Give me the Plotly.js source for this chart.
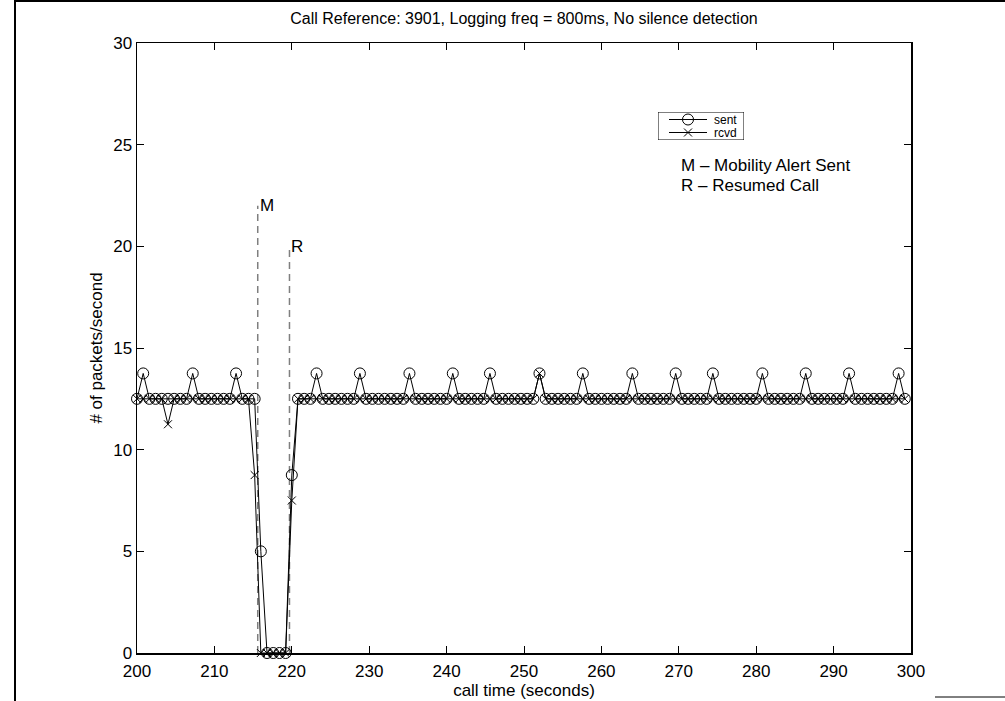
<!DOCTYPE html>
<html>
<head>
<meta charset="utf-8">
<script src="https://cdn.plot.ly/plotly-3.0.1.min.js"></script>
<style>
html,body{margin:0;padding:0;background:#fff;}
#chart{width:1005px;height:701px;}
</style>
</head>
<body>
<div id="chart"></div>
<script>
// call time (seconds), one sample every 0.8 s
const callTime = [
  200.0, 200.8, 201.6, 202.4, 203.2,
  204.0, 204.8, 205.6, 206.4, 207.2,
  208.0, 208.8, 209.6, 210.4, 211.2,
  212.0, 212.8, 213.6, 214.4, 215.2,
  216.0, 216.8, 217.6, 218.4, 219.2,
  220.0, 220.8, 221.6, 222.4, 223.2,
  224.0, 224.8, 225.6, 226.4, 227.2,
  228.0, 228.8, 229.6, 230.4, 231.2,
  232.0, 232.8, 233.6, 234.4, 235.2,
  236.0, 236.8, 237.6, 238.4, 239.2,
  240.0, 240.8, 241.6, 242.4, 243.2,
  244.0, 244.8, 245.6, 246.4, 247.2,
  248.0, 248.8, 249.6, 250.4, 251.2,
  252.0, 252.8, 253.6, 254.4, 255.2,
  256.0, 256.8, 257.6, 258.4, 259.2,
  260.0, 260.8, 261.6, 262.4, 263.2,
  264.0, 264.8, 265.6, 266.4, 267.2,
  268.0, 268.8, 269.6, 270.4, 271.2,
  272.0, 272.8, 273.6, 274.4, 275.2,
  276.0, 276.8, 277.6, 278.4, 279.2,
  280.0, 280.8, 281.6, 282.4, 283.2,
  284.0, 284.8, 285.6, 286.4, 287.2,
  288.0, 288.8, 289.6, 290.4, 291.2,
  292.0, 292.8, 293.6, 294.4, 295.2,
  296.0, 296.8, 297.6, 298.4, 299.2
];

const sent = [
  12.5, 13.75, 12.5, 12.5, 12.5,
  12.5, 12.5, 12.5, 12.5, 13.75,
  12.5, 12.5, 12.5, 12.5, 12.5,
  12.5, 13.75, 12.5, 12.5, 12.5,
  5, 0, 0, 0, 0,
  8.75, 12.5, 12.5, 12.5, 13.75,
  12.5, 12.5, 12.5, 12.5, 12.5,
  12.5, 13.75, 12.5, 12.5, 12.5,
  12.5, 12.5, 12.5, 12.5, 13.75,
  12.5, 12.5, 12.5, 12.5, 12.5,
  12.5, 13.75, 12.5, 12.5, 12.5,
  12.5, 12.5, 13.75, 12.5, 12.5,
  12.5, 12.5, 12.5, 12.5, 12.5,
  13.75, 12.5, 12.5, 12.5, 12.5,
  12.5, 12.5, 13.75, 12.5, 12.5,
  12.5, 12.5, 12.5, 12.5, 12.5,
  13.75, 12.5, 12.5, 12.5, 12.5,
  12.5, 12.5, 13.75, 12.5, 12.5,
  12.5, 12.5, 12.5, 13.75, 12.5,
  12.5, 12.5, 12.5, 12.5, 12.5,
  12.5, 13.75, 12.5, 12.5, 12.5,
  12.5, 12.5, 12.5, 13.75, 12.5,
  12.5, 12.5, 12.5, 12.5, 12.5,
  13.75, 12.5, 12.5, 12.5, 12.5,
  12.5, 12.5, 12.5, 13.75, 12.5
];

const rcvd = [
  12.5, 12.5, 12.5, 12.5, 12.5,
  11.25, 12.5, 12.5, 12.5, 12.5,
  12.5, 12.5, 12.5, 12.5, 12.5,
  12.5, 12.5, 12.5, 12.5, 8.75,
  0, 0, 0, 0, 0,
  7.5, 12.5, 12.5, 12.5, 12.5,
  12.5, 12.5, 12.5, 12.5, 12.5,
  12.5, 12.5, 12.5, 12.5, 12.5,
  12.5, 12.5, 12.5, 12.5, 12.5,
  12.5, 12.5, 12.5, 12.5, 12.5,
  12.5, 12.5, 12.5, 12.5, 12.5,
  12.5, 12.5, 12.5, 12.5, 12.5,
  12.5, 12.5, 12.5, 12.5, 12.5,
  13.75, 12.5, 12.5, 12.5, 12.5,
  12.5, 12.5, 12.5, 12.5, 12.5,
  12.5, 12.5, 12.5, 12.5, 12.5,
  12.5, 12.5, 12.5, 12.5, 12.5,
  12.5, 12.5, 12.5, 12.5, 12.5,
  12.5, 12.5, 12.5, 12.5, 12.5,
  12.5, 12.5, 12.5, 12.5, 12.5,
  12.5, 12.5, 12.5, 12.5, 12.5,
  12.5, 12.5, 12.5, 12.5, 12.5,
  12.5, 12.5, 12.5, 12.5, 12.5,
  12.5, 12.5, 12.5, 12.5, 12.5,
  12.5, 12.5, 12.5, 12.5, 12.5
];

// event markers (dashed vertical lines) and their labels
const eventLabels = ["M", "R"];
const eventTimes = [215.6, 219.7];
const eventTops = [22, 20];

// explanatory notes (data coordinates)
const noteLines = ["M \u2013 Mobility Alert Sent", "R \u2013 Resumed Call"];
const noteX = [270, 270];
const noteY = [24, 23];

// legend entries
const legendNames = ["sent", "rcvd"];

const titleText = "Call Reference: 3901, Logging freq = 800ms, No silence detection";
const xTitle = "call time (seconds)";
const yTitle = "# of packets/second";

const FONT = "Liberation Sans, Arial, Helvetica, sans-serif";
const SENT_MARKER = {symbol: "circle-open", size: 11, color: "#000", line: {width: 1, color: "#000"}};
const RCVD_MARKER = {symbol: "x-thin-open", size: 8, color: "#000", line: {width: 1, color: "#000"}};
const legendMarkers = [SENT_MARKER, RCVD_MARKER];

const traces = [];
eventTimes.forEach((t, i) => {
  traces.push({
    x: [t, t], y: [0, eventTops[i]],
    mode: "lines", showlegend: false, hoverinfo: "skip",
    line: {color: "#7f7f7f", width: 1.5, dash: "7px,5px"}
  });
});
traces.push({
  name: legendNames[0], x: callTime, y: sent, mode: "lines+markers", showlegend: false,
  line: {color: "#000", width: 1}, marker: SENT_MARKER, cliponaxis: false
});
traces.push({
  name: legendNames[1], x: callTime, y: rcvd, mode: "lines+markers", showlegend: false,
  line: {color: "#000", width: 1}, marker: RCVD_MARKER, cliponaxis: false
});

// hand-built legend on its own small axes (units = pixels inside the box)
const LEG_W = 86, LEG_H = 28;
const legendRowY = [20.5, 7.5];
legendNames.forEach((nm, i) => {
  traces.push({
    x: [11, 49], y: [legendRowY[i], legendRowY[i]], xaxis: "x2", yaxis: "y2",
    mode: "lines", showlegend: false, hoverinfo: "skip",
    line: {color: "#000", width: 1}
  });
  traces.push({
    x: [30], y: [legendRowY[i]], xaxis: "x2", yaxis: "y2",
    mode: "markers", showlegend: false, hoverinfo: "skip",
    marker: legendMarkers[i]
  });
});

const annotations = eventLabels.map((lab, i) => ({
  x: eventTimes[i], y: eventTops[i], xref: "x", yref: "y", text: lab,
  showarrow: false, xanchor: "left", yanchor: "middle",
  font: {family: FONT, size: 17, color: "#000"}
}));
noteLines.forEach((txt, i) => annotations.push({
  x: noteX[i], y: noteY[i], xref: "x", yref: "y", text: txt,
  showarrow: false, xanchor: "left", yanchor: "middle",
  font: {family: FONT, size: 17, color: "#000"}
}));
legendNames.forEach((nm, i) => annotations.push({
  x: 55, y: legendRowY[i], xref: "x2", yref: "y2", text: nm,
  showarrow: false, xanchor: "left", yanchor: "middle", borderpad: 0,
  font: {family: FONT, size: 12, color: "#000"}
}));

const L = 137, R = 911, T = 43, B = 653;
const px = v => (v - L) / (R - L);
const py = v => (B - v) / (B - T);
const legLeft = 658, legTop = 112;

const layout = {
  width: 1005, height: 701,
  margin: {l: L, r: 1005 - R, t: T, b: 701 - B, pad: 0},
  paper_bgcolor: "#fff", plot_bgcolor: "#fff",
  font: {family: FONT, size: 17, color: "#000"},
  showlegend: false,
  title: {text: titleText, x: 0.5, xref: "paper", xanchor: "center",
          y: 1 - 18 / 701, yref: "container", yanchor: "middle",
          font: {family: FONT, size: 16, color: "#000"}},
  xaxis: {
    range: [200, 300], dtick: 10, tick0: 200, ticks: "inside", ticklen: 7,
    tickcolor: "#000", showline: true, linecolor: "#000", linewidth: 1.5,
    mirror: "ticks", showgrid: false, zeroline: false, ticklabelstandoff: 2,
    tickfont: {family: FONT, size: 17},
    title: {text: xTitle, standoff: 1, font: {family: FONT, size: 17}}
  },
  yaxis: {
    range: [0, 30], dtick: 5, tick0: 0, ticks: "inside", ticklen: 7,
    tickcolor: "#000", showline: true, linecolor: "#000", linewidth: 1.5,
    mirror: "ticks", showgrid: false, zeroline: false,
    tickfont: {family: FONT, size: 17},
    title: {text: yTitle, standoff: 6, font: {family: FONT, size: 17}}
  },
  xaxis2: {domain: [px(legLeft), px(legLeft + LEG_W)], range: [0, LEG_W], anchor: "y2",
           visible: false, fixedrange: true},
  yaxis2: {domain: [py(legTop + LEG_H), py(legTop)], range: [0, LEG_H], anchor: "x2",
           visible: false, fixedrange: true},
  annotations: annotations,
  shapes: [
    {type: "rect", xref: "x2", yref: "y2", x0: 0, x1: LEG_W, y0: 0, y1: LEG_H,
     line: {color: "#000", width: 1}, fillcolor: "rgba(0,0,0,0)", layer: "above"},
    {type: "line", xref: "paper", yref: "paper", x0: px(15), x1: px(15), y0: py(0), y1: py(701), line: {color: "#000", width: 2}},
    {type: "line", xref: "paper", yref: "paper", x0: px(15), x1: px(1005), y0: py(1), y1: py(1), line: {color: "#000", width: 2}},
    {type: "line", xref: "paper", yref: "paper", x0: px(935), x1: px(1005), y0: py(697), y1: py(697), line: {color: "#000", width: 1}}
  ]
};

Plotly.newPlot("chart", traces, layout, {displayModeBar: false, staticPlot: true});
</script>
</body>
</html>
